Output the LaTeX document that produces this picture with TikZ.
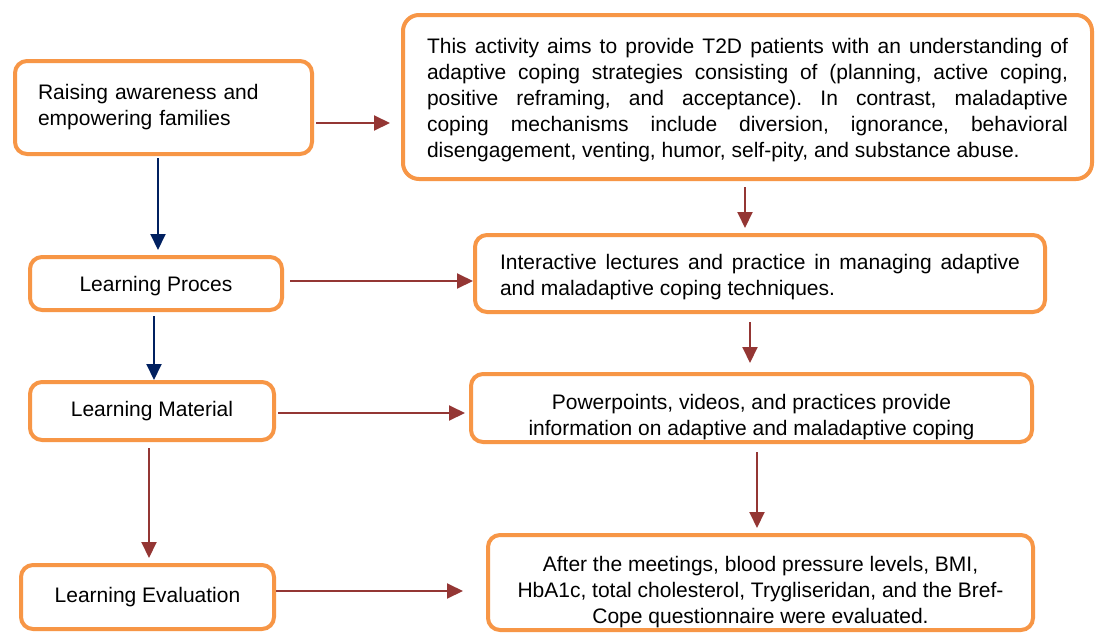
\documentclass[tikz,border=0pt]{standalone}
\usepackage{fontspec}
\setmainfont{Liberation Sans}
\usetikzlibrary{arrows.meta,positioning}
\definecolor{boxorange}{HTML}{F79646}
\definecolor{arrowred}{HTML}{943634}
\definecolor{arrowblue}{HTML}{002060}
\tolerance=10000
\hyphenpenalty=10000
\frenchspacing
% text set a little lower in its box, without changing the box
\newcommand\droptext[2]{\raisebox{-#1}[\height][\depth]{#2}}
\tikzset{
  stagebox/.style={draw=boxorange, line width=4pt, rounded corners=12pt,
    fill=white, inner sep=0pt, font=\fontsize{21}{26}\selectfont},
  redarrow/.style={-{Triangle[length=16pt,width=15pt]}, draw=arrowred,
    fill=arrowred, line width=2pt},
  bluearrow/.style={-{Triangle[length=16pt,width=15pt]}, draw=arrowblue,
    fill=arrowblue, line width=2pt}
}
\begin{document}
\begin{tikzpicture}[x=1pt, y=-1pt]
    \useasboundingbox[fill=white] (0,0) rectangle (1096,635);

    % Left column
    \node[stagebox, minimum width=297pt, minimum height=93pt, text width=251pt, align=left]
      (aware) at (163.5,107.5) {Raising awareness and\\empowering families};
    \node[stagebox, minimum width=252pt, minimum height=53pt] (proc) at (156,283.5) {\droptext{3pt}{Learning Proces}};
    \node[stagebox, minimum width=244pt, minimum height=58pt] (mat) at (152,411) {Learning Material};
    \node[stagebox, minimum width=253pt, minimum height=64pt] (eval) at (147.5,597) {Learning Evaluation};

    % Right column
    \node[stagebox, rounded corners=16pt, minimum width=689pt, minimum height=164pt]
      (info) at (747.5,97) {\droptext{3pt}{\parbox{641pt}{This activity aims to provide T2D patients with an understanding of\linebreak
      adaptive coping strategies consisting of (planning, active coping,\linebreak
      positive reframing, and acceptance). In contrast, maladaptive\linebreak
      coping mechanisms include diversion, ignorance, behavioral\linebreak
      disengagement, venting, humor, self-pity, and substance abuse.}}};
    \node[stagebox, minimum width=570pt, minimum height=77pt]
      (lect) at (760,273.5) {\droptext{4pt}{\parbox{520pt}{Interactive lectures and practice in managing adaptive\linebreak
      and maladaptive coping techniques.}}};
    \node[stagebox, minimum width=561pt, minimum height=68pt]
      (media) at (751.5,408) {\droptext{9pt}{\parbox{520pt}{\centering Powerpoints, videos, and practices provide\\
      information on adaptive and maladaptive coping}}};
    \node[stagebox, minimum width=545pt, minimum height=95pt]
      (result) at (760.5,582.5) {\droptext{10pt}{\parbox{520pt}{\centering After the meetings, blood pressure levels, BMI,\\
      HbA1c, total cholesterol, Trygliseridan, and the Bref-\\
      Cope questionnaire were evaluated.}}};

    % Arrows down the left
    \draw[bluearrow, shorten <=2pt, shorten >=5pt] ([xshift=-5.5pt]aware.south) -- ([xshift=-5.5pt]aware.south |- proc.north);
    \draw[bluearrow, shorten <=4pt] ([xshift=-2pt]proc.south) -- ([xshift=-2pt]proc.south |- mat.north);
    \draw[redarrow, shorten <=6pt, shorten >=5pt] ([xshift=-3pt]mat.south) -- ([xshift=-3pt]mat.south |- eval.north);

    % Arrows across
    \draw[redarrow, shorten <=2pt, shorten >=11pt] ([yshift=-15.5pt]aware.east) -- ([yshift=-15.5pt]aware.east -| info.west);
    \draw[redarrow, shorten <=6pt] ([yshift=2.5pt]proc.east) -- ([yshift=2.5pt]proc.east -| lect.west);
    \draw[redarrow, shorten <=2pt, shorten >=4pt] ([yshift=-2pt]mat.east) -- ([yshift=-2pt]mat.east -| media.west);
    \draw[redarrow, shorten >=23pt] ([yshift=6pt]eval.east) -- ([yshift=6pt]eval.east -| result.west);

    % Arrows down the right
    \draw[redarrow, shorten <=6pt, shorten >=5pt] ([xshift=-2.5pt]info.south) -- ([xshift=-2.5pt]info.south |- lect.north);
    \draw[redarrow, shorten <=8pt, shorten >=9pt] ([xshift=-10pt]lect.south) -- ([xshift=-10pt]lect.south |- media.north);
    \draw[redarrow, shorten <=8pt, shorten >=5pt] ([xshift=5.5pt]media.south) -- ([xshift=5.5pt]media.south |- result.north);
\end{tikzpicture}
\end{document}
